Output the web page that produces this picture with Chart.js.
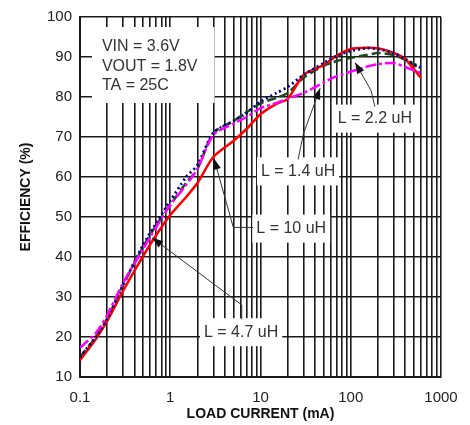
<!DOCTYPE html>
<html>
<head>
<meta charset="utf-8">
<script src="https://cdn.jsdelivr.net/npm/chart.js@4/dist/chart.umd.min.js"></script>
<style>
  body { margin: 0; background: #fff; }
</style>
</head>
<body>
<canvas id="effChart" width="470" height="425"></canvas>
<script>
// load current in mA (x axis, log)
var loadCurrent = [0.1, 0.15, 0.2, 0.3, 0.5, 0.7, 1, 1.5, 2, 3, 5, 7, 10, 15, 20, 30, 50, 70, 100, 150, 200, 300, 400, 600];

// efficiency in % for each inductor
var eff10uH  = [14.2, 19.5, 24, 31.5, 40.2, 45.5, 50.5, 55, 58.5, 65, 69, 72, 75.7, 78.3, 79.5, 85.5, 88, 90.3, 92, 92.3, 92.2, 91, 89.5, 84.8];
var eff4u7H  = [15, 20, 24.5, 33, 43, 48.5, 54, 60, 63, 71, 74, 76, 78.8, 81, 82.5, 85.5, 88.5, 90.3, 91.5, 92.2, 92, 91, 89.5, 87.3];
var eff2u2H  = [15, 20, 24.5, 33, 42.5, 48, 53, 58.5, 62, 71, 74, 76.2, 78.4, 79.8, 81, 84.8, 87.8, 89, 89.8, 90.5, 91, 90.5, 89.3, 87];
var eff1u4H  = [17.3, 21, 25.5, 33.5, 42, 47.5, 53, 58, 62, 70.5, 73.3, 75, 77.2, 78.5, 79.6, 81, 83.6, 85.2, 86.3, 87.6, 88.2, 88.5, 87.5, 86];

// axis ticks
var xDecades = [0.1, 1, 10, 100, 1000];
var xTickLabels = ['0.1', '1', '10', '100', '1000'];
var xMinorSteps = [2, 3, 4, 5, 6, 7, 8, 9];
var yTicks = [10, 20, 30, 40, 50, 60, 70, 80, 90, 100];

var xGrid = [];
for (var d = 0; d < xDecades.length - 1; d++) {
    xGrid.push(xDecades[d]);
    for (var m = 0; m < xMinorSteps.length; m++) xGrid.push(xDecades[d] * xMinorSteps[m]);
}
xGrid.push(xDecades[xDecades.length - 1]);

function toPoints(ys) {
    return loadCurrent.map(function (x, i) { return { x: x, y: ys[i] }; });
}

// labels and arrows, placed in data units (mA, %)
var notes = [
    { lines: ['VIN = 3.6V', 'VOUT = 1.8V', 'TA = 25C'], x: 0.175, y: 92.5, align: 'left', pad: [10, 12, 17, 9] },
    { lines: ['L = 2.2 uH'], x: 185, y: 74.6, align: 'center', pad: [4, 6, 4, 6] },
    { lines: ['L = 1.4 uH'], x: 26.1, y: 61.4, align: 'center', pad: [4, 6, 4, 6] },
    { lines: ['L = 10 uH'], x: 21.9, y: 47.1, align: 'center', pad: [4, 6, 4, 6] },
    { lines: ['L = 4.7 uH'], x: 6.1, y: 21.2, align: 'center', pad: [4, 6, 4, 6] }
];
var arrows = [
    [[185, 77.6], [168, 81.6], [112, 88.6]],
    [[26.1, 64.4], [29.9, 70.8], [45.8, 82.2]],
    [[8.3, 47.4], [5.0, 47.4], [3.05, 64.6]],
    [[6.2, 24.4], [6.2, 28], [0.63, 44.8]]
];

var fontFamily = '"Liberation Sans", Arial, sans-serif';

var notesPlugin = {
    id: 'notes',
    beforeDatasetsDraw: function (chart) {
        var ctx = chart.ctx, xs = chart.scales.x, ys = chart.scales.y;
        ctx.save();
        ctx.font = '16px ' + fontFamily;
        ctx.textBaseline = 'middle';
        notes.forEach(function (n) {
            var px = xs.getPixelForValue(n.x), py = ys.getPixelForValue(n.y);
            var w = 0;
            n.lines.forEach(function (t) { w = Math.max(w, ctx.measureText(t).width); });
            var lh = 19.5;
            var left = n.align === 'left' ? px : px - w / 2;
            var top = py - 8, bottom = py + lh * (n.lines.length - 1) + 8;
            ctx.fillStyle = '#fff';
            ctx.fillRect(left - n.pad[0], top - n.pad[1], w + n.pad[0] + n.pad[2], bottom - top + n.pad[1] + n.pad[3]);
            ctx.fillStyle = '#333';
            ctx.textAlign = 'left';
            n.lines.forEach(function (t, i) { ctx.fillText(t, left, py + i * lh); });
        });
        ctx.restore();
    },
    afterDatasetsDraw: function (chart) {
        var ctx = chart.ctx, xs = chart.scales.x, ys = chart.scales.y;
        ctx.save();
        ctx.strokeStyle = '#333';
        ctx.fillStyle = '#111';
        ctx.lineWidth = 1;
        arrows.forEach(function (a) {
            var pts = a.map(function (p) { return [xs.getPixelForValue(p[0]), ys.getPixelForValue(p[1])]; });
            ctx.beginPath();
            ctx.moveTo(pts[0][0], pts[0][1]);
            for (var i = 1; i < pts.length; i++) ctx.lineTo(pts[i][0], pts[i][1]);
            ctx.stroke();
            var tip = pts[pts.length - 1], prev = pts[pts.length - 2];
            var ang = Math.atan2(tip[1] - prev[1], tip[0] - prev[0]);
            var len = 11, hw = 4;
            ctx.beginPath();
            ctx.moveTo(tip[0], tip[1]);
            ctx.lineTo(tip[0] - len * Math.cos(ang) + hw * Math.sin(ang), tip[1] - len * Math.sin(ang) - hw * Math.cos(ang));
            ctx.lineTo(tip[0] - len * Math.cos(ang) - hw * Math.sin(ang), tip[1] - len * Math.sin(ang) + hw * Math.cos(ang));
            ctx.closePath();
            ctx.fill();
        });
        ctx.restore();
    }
};

var ctx = document.getElementById('effChart');
var effChart = new Chart(ctx, {
    type: 'line',
    data: {
        datasets: [
            { label: 'L = 1.4 uH', data: toPoints(eff1u4H), borderColor: '#ff00ff', borderWidth: 2.5, borderDash: [11, 3, 3, 3] },
            { label: 'L = 4.7 uH', data: toPoints(eff4u7H), borderColor: '#00008b', borderWidth: 2.8, borderDash: [2, 3] },
            { label: 'L = 10 uH', data: toPoints(eff10uH), borderColor: '#ff0000', borderWidth: 2.5 },
            { label: 'L = 2.2 uH', data: toPoints(eff2u2H), borderColor: '#1b4a1b', borderWidth: 2.5, borderDash: [9, 4] }
        ]
    },
    options: {
        responsive: false,
        animation: false,
        devicePixelRatio: 1,
        elements: { point: { radius: 0 }, line: { tension: 0.25, fill: false } },
        layout: { padding: { left: 0, right: 29, top: 16, bottom: 0 } },
        plugins: { legend: { display: false }, tooltip: { enabled: false } },
        scales: {
            x: {
                type: 'logarithmic',
                min: 0.1,
                max: 1000,
                afterBuildTicks: function (scale) {
                    scale.ticks = xGrid.map(function (v) { return { value: v }; });
                },
                afterFit: function (scale) { scale.height = 48; },
                grid: { color: '#1a1a1a', lineWidth: 1.6, drawTicks: false },
                border: { color: '#1a1a1a', width: 2 },
                ticks: {
                    autoSkip: false,
                    maxRotation: 0,
                    padding: 12,
                    color: '#222',
                    font: { family: fontFamily, size: 15 },
                    callback: function (v) {
                        var i = xDecades.indexOf(v);
                        return i >= 0 ? xTickLabels[i] : '';
                    }
                },
                title: {
                    display: true,
                    text: 'LOAD CURRENT (mA)',
                    color: '#111',
                    font: { family: fontFamily, size: 14, weight: 'bold' },
                    padding: { top: 0, bottom: 2 }
                }
            },
            y: {
                min: yTicks[0],
                max: yTicks[yTicks.length - 1],
                afterBuildTicks: function (scale) {
                    scale.ticks = yTicks.map(function (v) { return { value: v }; });
                },
                afterFit: function (scale) { scale.width = 80; },
                grid: { color: '#1a1a1a', lineWidth: 1.6, drawTicks: false },
                border: { color: '#1a1a1a', width: 2 },
                ticks: {
                    padding: 8,
                    color: '#222',
                    font: { family: fontFamily, size: 15 }
                },
                title: {
                    display: true,
                    text: 'EFFICIENCY (%)',
                    color: '#111',
                    font: { family: fontFamily, size: 14, weight: 'bold' },
                    padding: { top: 18, bottom: 0 }
                }
            }
        }
    },
    plugins: [notesPlugin]
});
</script>
</body>
</html>
